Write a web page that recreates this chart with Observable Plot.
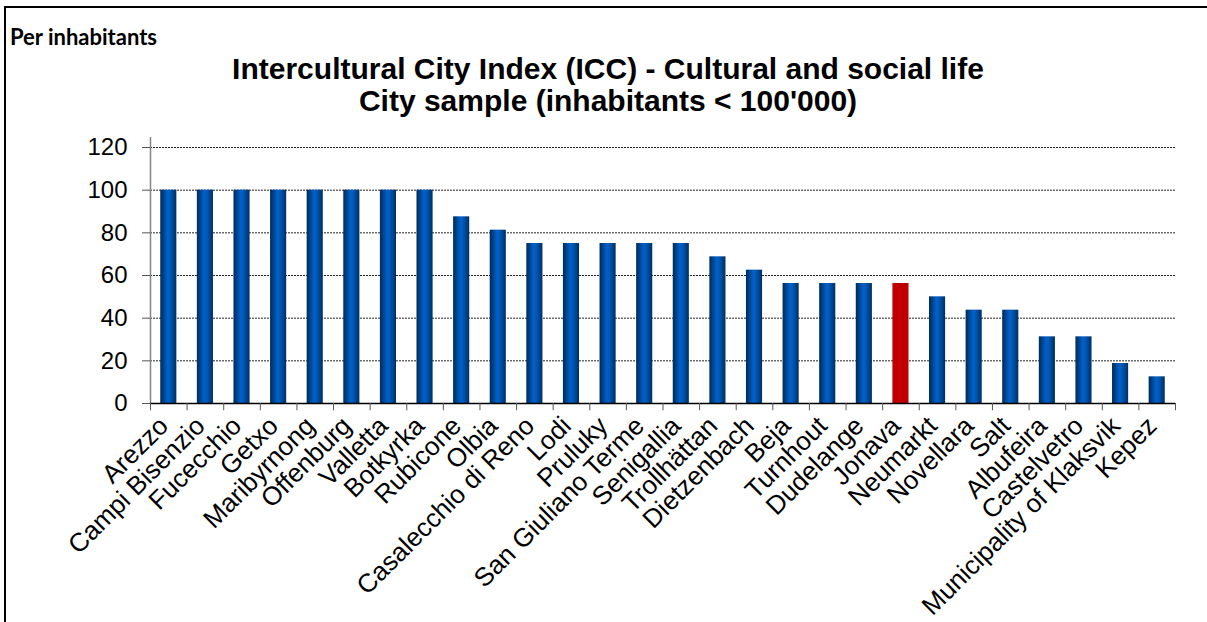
<!DOCTYPE html>
<html>
<head>
<meta charset="utf-8">
<script src="https://cdn.jsdelivr.net/npm/d3@7"></script>
<script src="https://cdn.jsdelivr.net/npm/@observablehq/plot@0.6"></script>
<style>
  body { margin: 0; background: #fff; }
  #wrap { position: relative; width: 1207px; height: 622px; overflow: hidden; background: #fff; }
  #wrap svg { position: absolute; left: 0; top: 0; }
  .bt { position: absolute; left: 4px; top: 6px; width: 1203px; height: 2px; background: #000; }
  .bl { position: absolute; left: 4px; top: 6px; width: 2px; height: 616px; background: #000; }
  .per { position: absolute; left: 10px; top: 23px; font: bold 22px Lato, "Open Sans", sans-serif; color: #000; }
  .title { position: absolute; left: 0; top: 53px; width: 1216px; text-align: center; font: bold 30px/32px "Liberation Sans", Arial, sans-serif; color: #000; }
</style>
</head>
<body>
<div id="wrap">
  <div class="bt"></div>
  <div class="bl"></div>
  <div class="per">Per inhabitants</div>
  <div class="title">Intercultural City Index (ICC) - Cultural and social life<br>City sample (inhabitants &lt; 100'000)</div>
</div>
<script>
const cities = ["Arezzo","Campi Bisenzio","Fucecchio","Getxo","Maribyrnong","Offenburg","Valletta","Botkyrka","Rubicone","Olbia","Casalecchio di Reno","Lodi","Pruluky","San Giuliano Terme","Senigallia","Trollhättan","Dietzenbach","Beja","Turnhout","Dudelange","Jonava","Neumarkt","Novellara","Salt","Albufeira","Castelvetro","Municipality of Klaksvik","Kepez"];
const values = [100,100,100,100,100,100,100,100,87.5,81.25,75,75,75,75,75,68.75,62.5,56.25,56.25,56.25,56.25,50,43.75,43.75,31.25,31.25,18.75,12.5];
const highlight = "Jonava";
const yTicks = [0,20,40,60,80,100,120];

const data = cities.map((c, i) => ({city: c, value: values[i]}));
const W = 1207, H = 622;
const mL = 150, mR = 32, mT = 147, mB = 219;
const step = (W - mL - mR) / cities.length;

const chart = Plot.plot({
  width: W, height: H,
  marginLeft: mL, marginRight: mR, marginTop: mT, marginBottom: mB,
  style: {fontFamily: '"Liberation Sans", Arial, sans-serif', background: "transparent", overflow: "visible"},
  x: {domain: cities, paddingInner: 0.56, paddingOuter: 0.28, round: false, label: null, axis: null},
  y: {domain: [0, 120], label: null},
  marks: [
    Plot.ruleY(yTicks.filter(d => d > 0), {stroke: "#222", strokeWidth: 1, strokeDasharray: "2,1"}),
    Plot.barY(data.filter(d => d.city !== highlight), {x: "city", y: "value", fill: "#0052a8"}),
    Plot.barY(data.filter(d => d.city === highlight), {x: "city", y: "value", fill: "#c00000"}),
    Plot.ruleX([cities[0]], {y1: 0, y2: 124.7, dx: -step / 2, stroke: "#868686", strokeWidth: 1.5}),
    Plot.ruleY([0], {stroke: "#000", strokeWidth: 1.5}),
    Plot.ruleX(cities, {y1: 0, y2: -3.4, dx: -step / 2, stroke: "#555"}),
    Plot.ruleX([cities[cities.length - 1]], {y1: 0, y2: -3.4, dx: step / 2, stroke: "#555"}),
    Plot.axisY({ticks: yTicks, tickSize: 8, tickPadding: 15, fontSize: 24, stroke: "#555", color: "#000"}),
    Plot.text(cities, {x: d => d, y: 0, text: d => d, rotate: -45, textAnchor: "end", lineAnchor: "bottom", dx: 1, dy: 24, fontSize: 26, fill: "#000"})
  ]
});

const svg = d3.select(chart);
const defs = svg.insert("defs", ":first-child");
const g = defs.append("linearGradient").attr("id", "barGrad").attr("x1", "0").attr("x2", "1").attr("y1", "0").attr("y2", "0");
g.append("stop").attr("offset", "0%").attr("stop-color", "#002a58");
g.append("stop").attr("offset", "45%").attr("stop-color", "#0060c8");
g.append("stop").attr("offset", "58%").attr("stop-color", "#005cc0");
g.append("stop").attr("offset", "100%").attr("stop-color", "#002f62");
svg.selectAll("rect").filter(function() { return this.getAttribute("fill") === "#0052a8"; }).attr("fill", "url(#barGrad)");
svg.selectAll("g[fill='#0052a8']").attr("fill", "url(#barGrad)");
document.getElementById("wrap").insertBefore(chart, document.getElementById("wrap").firstChild);
</script>
</body>
</html>
